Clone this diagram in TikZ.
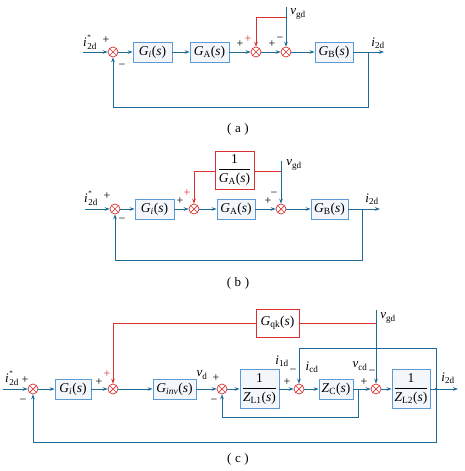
\documentclass[tikz,border=0pt]{standalone}
\usepackage{amsmath}
\usepackage{fontspec}
\setmainfont{Liberation Serif}
\usetikzlibrary{arrows.meta}
\definecolor{lc}{HTML}{1F6A96}
\definecolor{bc}{HTML}{5B9BD5}
\definecolor{bf}{HTML}{F3F7FC}
\definecolor{rc}{HTML}{D9312F}
\newcommand{\itx}[1]{\textit{#1}}
\newcommand{\tfn}[2]{\itx{#1}\textsubscript{#2}(\itx{s})}
\newcommand{\sig}[2]{\itx{#1}\textsubscript{#2}}
\newcommand{\istar}{\itx{i}\kern0.05em\rlap{\raisebox{1.25ex}{\scriptsize *}}\textsubscript{2d}}
\newcommand{\fr}[1]{$\dfrac{\text{1}}{\text{#1}}$}
\begin{document}
\begin{tikzpicture}[x=1pt,y=-1pt,
  ln/.style={draw=lc, line width=0.8pt},
  rl/.style={draw=rc, line width=0.8pt},
  arr/.style={-{Stealth[length=5pt,width=3.6pt]}},
  blk/.style={draw=bc, fill=bf, line width=0.8pt, minimum height=20pt, inner sep=1pt, font=\fontsize{13.5}{15}\selectfont},
  rblk/.style={draw=rc, fill=white, line width=0.8pt, inner sep=1pt, font=\fontsize{13.5}{15}\selectfont},
  sumj/.style={circle, draw=rc, fill=white, line width=0.7pt, minimum size=10pt, inner sep=0pt,
    path picture={\draw[rc, line width=0.7pt] (path picture bounding box.north west)--(path picture bounding box.south east) (path picture bounding box.north east)--(path picture bounding box.south west);}},
  lab/.style={inner sep=0pt, font=\fontsize{13}{15}\selectfont},
  sg/.style={inner sep=0pt, font=\fontsize{12}{14}\selectfont},
  rsg/.style={inner sep=0pt, text=rc, font=\fontsize{12}{14}\selectfont},
  captxt/.style={inner sep=0pt, font=\fontsize{13}{15}\selectfont}]
\useasboundingbox (0,0) rectangle (464,471);

% ================= (a)
\coordinate (ina) at (83,52);
\node[sumj] (s1a) at (113,52) {};
\node[blk, minimum width=39pt] (Gia) at (152.5,52) {\tfn{G}{\itx{i}}};
\node[blk, minimum width=39pt] (GAa) at (209.5,52) {\tfn{G}{A}};
\node[sumj] (s2a) at (256,52) {};
\node[sumj] (s3a) at (286,52) {};
\node[blk, minimum width=38pt] (GBa) at (334,52) {\tfn{G}{B}};
\coordinate (bra) at (368,52);
\coordinate (outa) at (384,52);
\coordinate (vta) at (286,7);
\coordinate (rja) at (286,17);
\coordinate (fba) at (368,107);
\draw[ln,arr] (ina) -- (s1a);
\draw[ln,arr] (s1a) -- (Gia);
\draw[ln,arr] (Gia) -- (GAa);
\draw[ln,arr] (GAa) -- (s2a);
\draw[ln,arr] (s2a) -- (s3a);
\draw[ln,arr] (s3a) -- (GBa);
\draw[ln,arr] (GBa) -- (outa);
\draw[ln,arr] (vta) -- (s3a);
\draw[rl,arr] (rja) -| (s2a);
\draw[ln,arr] (bra) -- (fba) -| (s1a);
\node[lab] (t1a) at (90,42) {\istar};
\node[sg] at (106,40) {+};
\node[sg] at (122,66) {−};
\node[sg] at (240,44) {+};
\node[rsg] at (248,39) {+};
\node[sg] at (272,44) {+};
\node[sg] at (280,39) {−};
\node[lab] at (298,14) {\sig{v}{gd}};
\node[lab] at (378,43) {\sig{i}{2d}};
\node[captxt] at (238,129) {(\;a\;)};

% ================= (b)
\coordinate (inb) at (85,209);
\node[sumj] (s1b) at (115,209) {};
\node[blk, minimum width=39pt] (Gib) at (154.5,209) {\tfn{G}{\itx{i}}};
\node[sumj] (s2b) at (194,209) {};
\node[blk, minimum width=38pt] (GAb) at (236,209) {\tfn{G}{A}};
\node[sumj] (s3b) at (281,209) {};
\node[blk, minimum width=37pt] (GBb) at (329.5,209) {\tfn{G}{B}};
\node[rblk, minimum width=39pt, minimum height=38pt] (iGA) at (234.5,170) {\fr{\tfn{G}{A}}};
\coordinate (brb) at (362,209);
\coordinate (outb) at (380,209);
\coordinate (vtb) at (281,161);
\coordinate (rjb) at (281,171);
\coordinate (fbb) at (362,260);
\draw[ln,arr] (inb) -- (s1b);
\draw[ln,arr] (s1b) -- (Gib);
\draw[ln,arr] (Gib) -- (s2b);
\draw[ln,arr] (s2b) -- (GAb);
\draw[ln,arr] (GAb) -- (s3b);
\draw[ln,arr] (s3b) -- (GBb);
\draw[ln,arr] (GBb) -- (outb);
\draw[ln,arr] (vtb) -- (s3b);
\draw[rl] (rjb) -- (iGA.east |- rjb);
\draw[rl,arr] (iGA.west |- rjb) -| (s2b);
\draw[ln,arr] (brb) -- (fbb) -| (s1b);
\node[lab] at (91,198) {\istar};
\node[sg] at (107,196) {+};
\node[sg] at (122,220) {−};
\node[sg] at (180,201) {+};
\node[rsg] at (187,193) {+};
\node[sg] at (268,201) {+};
\node[sg] at (274,194) {−};
\node[lab] at (294,165) {\sig{v}{gd}};
\node[lab] at (372,199) {\sig{i}{2d}};
\node[captxt] at (238,283) {(\;b\;)};

% ================= (c)
\coordinate (inc) at (3,389);
\node[sumj] (s1c) at (33,389) {};
\node[blk, minimum width=36pt] (Gic) at (73,389) {\tfn{G}{\itx{i}}};
\node[sumj] (s2c) at (113,389) {};
\node[blk, minimum width=43pt] (Ginv) at (174.5,389) {\tfn{G}{\itx{inv}}};
\node[sumj] (s3c) at (222,389) {};
\node[blk, minimum width=39pt, minimum height=39pt] (ZL1) at (259.5,389) {\fr{\tfn{Z}{L1}}};
\node[sumj] (s4c) at (299,389) {};
\node[blk, minimum width=34pt] (ZC) at (336,389) {\tfn{Z}{C}};
\node[sumj] (s5c) at (376,389) {};
\node[blk, minimum width=38pt, minimum height=39pt] (ZL2) at (411,389) {\fr{\tfn{Z}{L2}}};
\node[rblk, minimum width=43pt, minimum height=28pt] (Gqk) at (277.5,323) {\tfn{G}{qk}};
\node[circle, fill=lc, inner sep=0pt, minimum size=2.6pt] (dotc) at (436,389) {};
\coordinate (outc) at (458,389);
\coordinate (brc) at (358,389);
\coordinate (vtc) at (376,310);
\coordinate (rjc) at (376,323);
\coordinate (fb1) at (358,417);
\coordinate (fb2) at (436,348);
\coordinate (fb3) at (436,442);
\draw[ln,arr] (inc) -- (s1c);
\draw[ln,arr] (s1c) -- (Gic);
\draw[ln,arr] (Gic) -- (s2c);
\draw[ln,arr] (s2c) -- (Ginv);
\draw[ln,arr] (Ginv) -- (s3c);
\draw[ln,arr] (s3c) -- (ZL1);
\draw[ln,arr] (ZL1) -- (s4c);
\draw[ln,arr] (s4c) -- (ZC);
\draw[ln,arr] (ZC) -- (s5c);
\draw[ln,arr] (s5c) -- (ZL2);
\draw[ln,arr] (ZL2) -- (outc);
\draw[ln,arr] (vtc) -- (s5c);
\draw[rl] (rjc) -- (Gqk);
\draw[rl,arr] (Gqk) -| (s2c);
\draw[ln,arr] (brc) -- (fb1) -| (s3c);
\draw[ln,arr] (dotc.center) -- (fb2) -| (s4c);
\draw[ln,arr] (dotc.center) -- (fb3) -| (s1c);
\node[lab] at (12,378) {\istar};
\node[sg] at (25,380) {+};
\node[sg] at (23,401) {−};
\node[sg] at (99,382) {+};
\node[rsg] at (107,374) {+};
\node[lab] at (202,375) {\sig{v}{d}};
\node[sg] at (216,378) {+};
\node[sg] at (214,401) {−};
\node[lab] at (282,361) {\sig{i}{1d}};
\node[sg] at (287,382) {+};
\node[sg] at (293,371) {−};
\node[lab] at (312,367) {\sig{i}{cd}};
\node[lab] at (360,366) {\sig{v}{cd}};
\node[sg] at (372,372) {−};
\node[sg] at (364,382) {+};
\node[lab] at (388,318) {\sig{v}{gd}};
\node[lab] at (448,378) {\sig{i}{2d}};
\node[captxt] at (238,459) {(\;c\;)};
\end{tikzpicture}
\end{document}
